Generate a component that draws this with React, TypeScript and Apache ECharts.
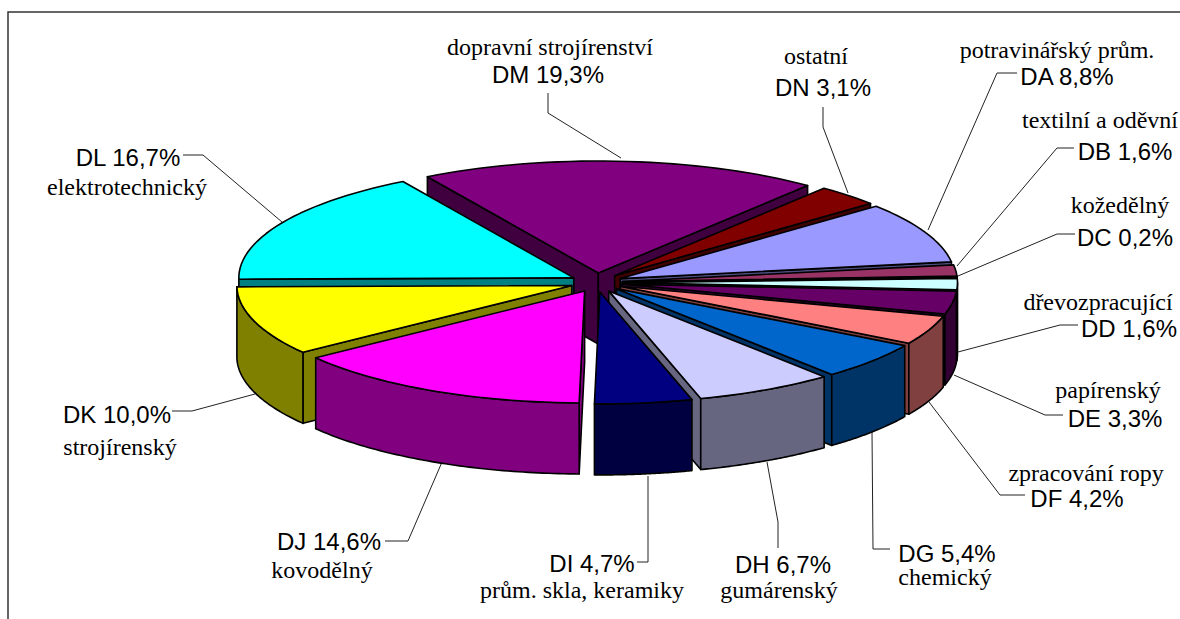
import React, { useEffect, useRef } from "react";
import * as echarts from "echarts";

const codes = ["DA","DB","DC","DD","DE","DF","DG","DH","DI","DJ","DK","DL","DM","DN"];
const shares = [8.8,1.6,0.2,1.6,3.3,4.2,5.4,6.7,4.7,14.6,10.0,16.7,19.3,3.1];
const names = ["potravinářský prům.","textilní a oděvní","kožedělný","dřevozpracující","papírenský","zpracování ropy","chemický","gumárenský","prům. skla, keramiky","kovodělný","strojírenský","elektrotechnický","dopravní strojírenství","ostatní"];
const topColors = ["#9999FF","#993366","#FFFFCC","#CCFFFF","#660066","#FF8080","#0066CC","#CCCCFF","#000080","#FF00FF","#FFFF00","#00FFFF","#800080","#800000"];
const sideColors = ["#4D4D80","#4D1A33","#808066","#668080","#330033","#804040","#003366","#666680","#000040","#800080","#808000","#008080","#400040","#400000"];

// [x, y] centre of the code line, [x, y] centre of the name line
const labelPos: number[][] = [
  [1067,76,1057,50],[1125,151,1100,120],[1125,237,1120,205],[1129,328,1098,302],
  [1115,418,1108,390],[1077,498,1086,473],[947,553,945,577],[783,564,779,590],
  [592,563,582,590],[329,541,322,570],[117,414,120,447],[128,157,127,187],
  [548,74,550,47],[823,87,816,56],
];
const leaders: number[][][] = [
  [[1017,73],[997,73],[928,230]],[[1074,148],[1057,148],[957,266]],[[1075,234],[1057,234],[958,276]],
  [[1078,325],[1060,325],[958,352]],[[1063,415],[1045,415],[954,375]],[[1025,495],[1000,495],[929,402]],
  [[890,549],[873,549],[872,432]],[[778,548],[778,522],[767,462]],[[637,562],[648,562],[648,476]],
  [[385,541],[408,541],[442,462]],[[172,411],[192,411],[255,394]],[[183,155],[203,155],[282,222]],
  [[548,93],[548,113],[621,158]],[[823,107],[823,127],[848,193]],
];

const CX = 596.5, CY = 282.5, RX = 335, RY = 112, DEPTH = 71, EX = 26, EY = 9.5, START = 49.8;
const total = shares.reduce((a, b) => a + b, 0);
const rad = (d: number) => (d * Math.PI) / 180;
const toAngle = (c: number) => START + (360 * c) / total;

const rows = shares.map((s, i) => {
  const c = shares.slice(0, i).reduce((a, b) => a + b, 0);
  return [s, c, i];
});
const midCos = (r: number[]) => Math.cos(rad(toAngle(r[1] + r[0] / 2)));
const ordered = rows.slice().sort((a, b) => midCos(b) - midCos(a));

function renderItem(_: any, api: any) {
  const s = api.value(0), c = api.value(1), idx = api.value(2);
  const a0 = toAngle(c), a1 = toAngle(c + s), m = (a0 + a1) / 2;
  const A: [number, number] = [CX + EX * Math.sin(rad(m)), CY - EY * Math.cos(rad(m))];
  const P = (a: number): [number, number] => [A[0] + RX * Math.sin(rad(a)), A[1] - RY * Math.cos(rad(a))];
  const down = (p: number[]): [number, number] => [p[0], p[1] + DEPTH];
  const steps = Math.max(2, Math.ceil((a1 - a0) / 2));
  const arc: [number, number][] = [];
  for (let i = 0; i <= steps; i++) arc.push(P(a0 + ((a1 - a0) * i) / steps));
  const M = P(m);
  const line = { stroke: "#000", lineWidth: 1.6, lineJoin: "round" };
  const children: any[] = [];
  const wall = (edge: [number, number]) => {
    const dx = edge[0] - A[0];
    if (Math.abs(dx) < 0.001) return;
    const yl = A[1] + ((edge[1] - A[1]) * (M[0] - A[0])) / dx;
    if (M[1] < yl) {
      children.push({ type: "polygon", shape: { points: [A, edge, down(edge), down(A)] }, style: { fill: sideColors[idx], ...line } });
    }
  };
  wall(arc[0]);
  wall(arc[arc.length - 1]);
  // outer wall: the part of the rim that faces the viewer
  const front: [number, number][] = [];
  for (let i = 0; i <= 60; i++) {
    const a = a0 + ((a1 - a0) * i) / 60;
    if (Math.cos(rad(a)) <= 0) front.push(P(a));
  }
  if (front.length > 1) {
    children.push({ type: "polygon", shape: { points: [...front, ...front.slice().reverse().map(down)] }, style: { fill: sideColors[idx], ...line } });
  }
  children.push({ type: "polygon", shape: { points: [A, ...arc] }, style: { fill: topColors[idx], ...line } });
  return { type: "group", children };
}

export default function App() {
  const ref = useRef<HTMLDivElement>(null);
  useEffect(() => {
    const chart = echarts.init(ref.current!, null, { renderer: "svg" });
    const graphics: any[] = [
      { type: "polyline", silent: true, shape: { points: [[8, 619], [8, 12], [1180, 12]] }, style: { stroke: "#333", lineWidth: 1.5, fill: "none" } },
    ];
    leaders.forEach((pts) => {
      graphics.push({ type: "polyline", silent: true, shape: { points: pts }, style: { stroke: "#222", lineWidth: 1, fill: "none" } });
    });
    codes.forEach((code, i) => {
      const [x1, y1, x2, y2] = labelPos[i];
      const pct = shares[i].toFixed(1).replace(".", ",") + "%";
      graphics.push({ type: "text", silent: true, x: x1, y: y1, style: { text: `${code} ${pct}`, font: '24px "Liberation Sans", Arial, sans-serif', fill: "#000", textAlign: "center", textVerticalAlign: "middle" } });
      graphics.push({ type: "text", silent: true, x: x2, y: y2, style: { text: names[i], font: '24px "Liberation Serif", "Times New Roman", serif', fill: "#000", textAlign: "center", textVerticalAlign: "middle" } });
    });
    chart.setOption({
      animation: false,
      backgroundColor: "#fff",
      series: [{ type: "custom", coordinateSystem: "none", renderItem, data: ordered, silent: true, animation: false }],
      graphic: graphics,
    });
    return () => chart.dispose();
  }, []);
  return <div ref={ref} style={{ position: "fixed", left: 0, top: 0, width: 1180, height: 619 }} />;
}
